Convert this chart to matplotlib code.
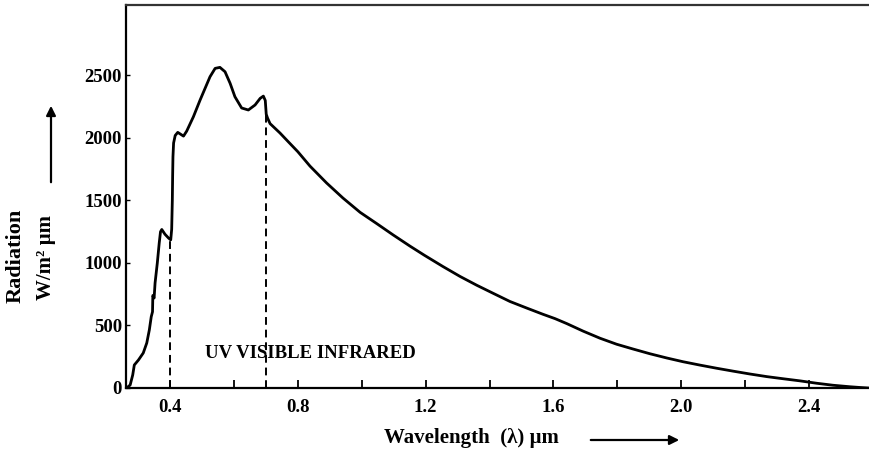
import matplotlib
matplotlib.use("Agg")
import matplotlib.pyplot as plt
import numpy as np

# solar spectrum (um, W/m2 um)
wavelength = [0.264, 0.275, 0.283, 0.288, 0.301, 0.316, 0.327, 0.335, 0.341, 0.345,
              0.346, 0.350, 0.353, 0.360, 0.366, 0.370, 0.374, 0.384, 0.395, 0.402,
              0.405, 0.407, 0.408, 0.409, 0.411, 0.416, 0.424, 0.433, 0.442, 0.452,
              0.473, 0.494, 0.525, 0.541, 0.556, 0.572, 0.588, 0.603, 0.624, 0.645,
              0.666, 0.682, 0.692, 0.698, 0.701, 0.705, 0.713, 0.744, 0.770, 0.800,
              0.838, 0.890, 0.941, 0.995, 1.047, 1.098, 1.151, 1.196, 1.254, 1.308,
              1.360, 1.411, 1.464, 1.516, 1.567, 1.605, 1.642, 1.693, 1.746, 1.798,
              1.849, 1.902, 1.955, 2.006, 2.059, 2.111, 2.162, 2.215, 2.268, 2.319,
              2.372, 2.424, 2.475, 2.528, 2.560, 2.585]
radiation = [0, 24, 104, 184, 224, 280, 360, 464, 570, 610,
             740, 720, 840, 1000, 1160, 1250, 1268, 1230, 1200, 1185,
             1270, 1500, 1700, 1850, 1960, 2020, 2045, 2030, 2015, 2055,
             2170, 2304, 2490, 2557, 2565, 2530, 2437, 2330, 2240, 2224,
             2264, 2317, 2335, 2300, 2190, 2160, 2115, 2040, 1970, 1890,
             1775, 1640, 1520, 1405, 1315, 1225, 1135, 1062, 972, 892,
             822, 758, 692, 640, 590, 555, 515, 455, 398, 350,
             312, 274, 240, 210, 183, 158, 135, 112, 91, 74,
             57, 38, 22, 10, 4, 0]

boundaries = [0.4, 0.7]
xticks_major = [0.4, 0.8, 1.2, 1.6, 2.0, 2.4]
xticks_minor = [0.6, 1.0, 1.4, 1.8, 2.2]
yticks = [0, 500, 1000, 1500, 2000, 2500]

plt.rcParams['font.family'] = ['Liberation Serif', 'DejaVu Serif']
plt.rcParams['font.weight'] = 'bold'

fig = plt.figure(figsize=(8.69, 4.54), dpi=100)
ax = fig.add_axes([0.145, 0.1454, 0.855, 0.8436])

ax.plot(wavelength, radiation, color="black", lw=2.0, solid_joinstyle="round")

# dashed band limits up to the curve
for b in boundaries:
    top = np.interp(b, wavelength, radiation)
    ax.plot([b, b], [0, top], color="black", lw=1.4, ls=(0, (4, 2.5)))

ax.text(0.51, 272, "UV VISIBLE INFRARED", fontsize=13.5, fontweight="bold",
        ha="left", va="center")

ax.set_xlim(0.262, 2.588)
ax.set_ylim(0, 3064)
ax.set_xticks(xticks_major)
ax.set_xticks(xticks_minor, minor=True)
ax.set_xticklabels(["%.1f" % t for t in xticks_major])
ax.set_yticks(yticks)
ax.tick_params(axis="x", which="both", direction="in", length=6, width=1.3,
               labelsize=13.5, pad=8)
ax.tick_params(axis="y", direction="in", length=3, width=1.0,
               labelsize=13.5, pad=3)
for lab in ax.get_xticklabels() + ax.get_yticklabels():
    lab.set_fontweight("bold")

ax.spines["right"].set_visible(False)
for s in ["left", "top", "bottom"]:
    ax.spines[s].set_linewidth(1.6)
ax.spines["top"].set_color("#333333")

# y axis label in two lines with an arrow
fig.text(16 / 869, 1 - 256 / 454, "Radiation", rotation=90, fontsize=16,
         fontweight="bold", ha="center", va="center")
fig.text(46 / 869, 1 - 257 / 454, "W/m\u00b2 \u00b5m", rotation=90, fontsize=15,
         fontweight="bold", ha="center", va="center")
fig.add_artist(plt.Annotation("", xy=(51 / 869, 1 - 103 / 454), xytext=(51 / 869, 1 - 185 / 454),
                              xycoords="figure fraction", textcoords="figure fraction",
                              arrowprops=dict(arrowstyle="-|>", color="black", lw=1.6,
                                              mutation_scale=14)))

# x axis label with arrow
fig.text(471 / 869, 1 - 438 / 454, "Wavelength  (\u03bb) \u00b5m", fontsize=15,
         fontweight="bold", ha="center", va="center")
fig.add_artist(plt.Annotation("", xy=(682 / 869, 1 - 440 / 454), xytext=(588 / 869, 1 - 440 / 454),
                              xycoords="figure fraction", textcoords="figure fraction",
                              arrowprops=dict(arrowstyle="-|>", color="black", lw=1.6,
                                              mutation_scale=14)))

fig.savefig("out.png", dpi=100)
